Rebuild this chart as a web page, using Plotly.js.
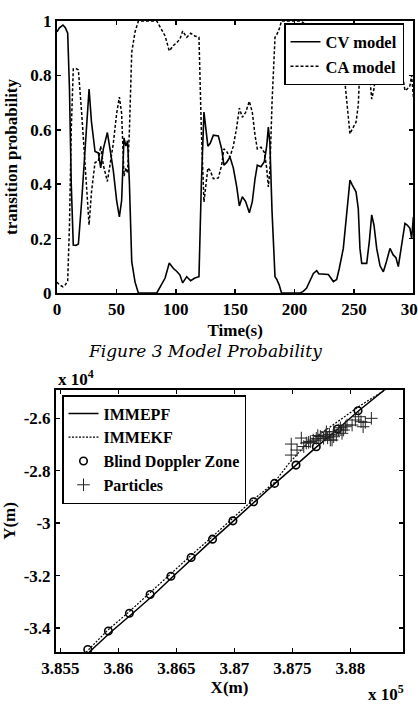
<!DOCTYPE html>
<html>
<head>
<meta charset="utf-8">
<script src="https://cdn.plot.ly/plotly-3.0.1.min.js"></script>
<style>html,body{margin:0;padding:0;background:#fff;}#chart{width:418px;height:706px;}</style>
</head>
<body>
<div id="chart"></div>
<script>
// ---- Figure 3 data: model probabilities vs time ----
var timeS = [0,2,5,7,9,10.5,12,13.7,16,18,20.8,23.6,27,29,32,34.8,36.8,39,42.4,44.6,47.4,50.2,52.5,54.4,56.4,58,59.4,60.9,62.9,65.7,68.5,84,86.7,91,94.5,98,100.7,103.5,105.8,109.2,112.5,116,119.5,121.5,123.7,125.5,127,129,131.6,135.8,138.6,140.5,142.8,145.6,148.4,151.3,153.5,156,158.8,161.9,164.4,166.7,168.6,171.7,174.5,176.5,177.9,179.2,181,183.5,185,187,189,204.5,207,210,213,215.8,218.6,220.5,222.8,225.6,228.4,230.5,232.6,235.4,237.6,241,243.8,246.6,248.6,251.7,253.6,255,256.5,260.7,262.9,264.9,266.8,269.1,271.9,274.7,276.9,278.5,280.3,283,285.3,287.3,289.3,291.5,292.9,294.8,297.1,298.5,300];
var cvModel = [0.96,0.975,0.985,0.975,0.955,0.75,0.40,0.176,0.175,0.18,0.34,0.53,0.75,0.63,0.52,0.515,0.46,0.53,0.59,0.53,0.45,0.34,0.28,0.34,0.57,0.54,0.56,0.41,0.115,0.04,0.0,0.0,0.02,0.055,0.11,0.09,0.08,0.066,0.037,0.06,0.045,0.055,0.06,0.40,0.665,0.60,0.54,0.55,0.58,0.577,0.53,0.47,0.48,0.50,0.46,0.39,0.32,0.354,0.336,0.295,0.336,0.42,0.47,0.464,0.483,0.54,0.61,0.55,0.30,0.06,0.05,0.03,0.0,0.0,0.005,0.017,0.045,0.072,0.082,0.07,0.07,0.07,0.068,0.055,0.042,0.05,0.09,0.164,0.287,0.415,0.397,0.372,0.31,0.164,0.109,0.109,0.19,0.287,0.25,0.164,0.10,0.078,0.109,0.14,0.164,0.14,0.13,0.097,0.152,0.213,0.256,0.25,0.238,0.2,0.28];
var caModel = [0.04,0.03,0.023,0.03,0.045,0.25,0.60,0.824,0.825,0.82,0.66,0.47,0.25,0.37,0.48,0.485,0.54,0.47,0.41,0.47,0.55,0.66,0.72,0.66,0.43,0.46,0.44,0.59,0.885,0.96,1.0,1.0,0.98,0.945,0.89,0.91,0.92,0.934,0.963,0.94,0.955,0.945,0.94,0.60,0.335,0.40,0.46,0.45,0.42,0.423,0.47,0.53,0.52,0.50,0.54,0.61,0.68,0.646,0.664,0.705,0.664,0.58,0.53,0.536,0.517,0.46,0.39,0.45,0.70,0.94,0.95,0.97,1.0,1.0,0.995,0.983,0.955,0.928,0.918,0.93,0.93,0.93,0.932,0.945,0.958,0.95,0.91,0.836,0.713,0.585,0.603,0.628,0.69,0.836,0.891,0.891,0.81,0.713,0.75,0.836,0.90,0.922,0.891,0.86,0.836,0.86,0.87,0.903,0.848,0.787,0.744,0.75,0.762,0.80,0.72];
var probTickVals = [0,0.2,0.4,0.6,0.8,1];
var probTickText = ["0","0.2","0.4","0.6","0.8","1"];
var timeTickVals = [0,50,100,150,200,250,300];
var timeTickText = ["0","50","100","150","200","250","300"];

// ---- Figure 4 data: tracking trajectories (m) ----
var epfX = [385747,385933,386114,386291,386464,386636,386813,386991,387168,387349,387532,387707,387893,388070,388295];
var epfY = [-34927,-34163,-33476,-32788,-32062,-31337,-30630,-29923,-29197,-28491,-27784,-27097,-26409,-25721,-24919];
var ekfX = [385721,385907,386088,386265,386442,386619,386801,386978,387159,387345,387466,387627,387828,388087,388312];
var ekfY = [-34927,-34087,-33399,-32674,-31986,-31260,-30554,-29847,-29121,-28453,-27746,-26955,-26332,-25511,-24881];
var bdzX = [385736,385914,386095,386274,386453,386628,386812,386988,387166,387347,387532,387707,387891,388067];
var bdzY = [-34824,-34114,-33438,-32723,-32024,-31310,-30611,-29912,-29186,-28483,-27784,-27085,-26409,-25710];
var partX = [387491,387491,387541,387578,387599,387621,387656,387681,387707,387720,387729,387742,387770,387785,387794,387805,387820,387828,387857,387880,387900,387915,387929,387958,387972,388016,388044,388073,388093,388111,388130,388182,387641,387843,387943,387857];
var partY = [-26982,-27402,-27211,-26753,-27077,-26944,-26886,-26829,-26764,-26657,-26829,-26695,-26764,-26638,-26512,-26741,-26611,-26829,-26512,-26638,-26447,-26359,-26573,-26321,-26256,-26256,-26065,-25939,-26130,-26321,-26153,-26000,-26917,-26829,-26447,-26703];
var xyTickValsX = [385500,386000,386500,387000,387500,388000];
var xyTickTextX = ["3.855","3.86","3.865","3.87","3.875","3.88"];
var xyTickValsY = [-34000,-32000,-30000,-28000,-26000];
var xyTickTextY = ["-3.4","-3.2","-3","-2.8","-2.6"];

var W = 418, H = 706;
function px(x){return x/W;}
function py(y){return (H-y)/H;}

var serif = "Liberation Serif";
var capSerif = "DejaVu Serif";
var tickF = {family: serif, size: 17, color: "#000", weight: "bold"};
var titleF = {family: serif, size: 17, color: "#000", weight: "bold"};
var legF = {family: serif, size: 16.5, color: "#000", weight: "bold"};
var legF2 = {family: serif, size: 16, color: "#000", weight: "bold"};

var traces = [
  {x: timeS, y: cvModel, type: "scatter", mode: "lines", name: "<b>CV model</b>",
   line: {color: "#000", width: 1.6}, xaxis: "x", yaxis: "y", legend: "legend"},
  {x: timeS, y: caModel, type: "scatter", mode: "lines", name: "<b>CA model</b>",
   line: {color: "#000", width: 1.5, dash: "3px,2px"}, xaxis: "x", yaxis: "y", legend: "legend"},
  {x: epfX, y: epfY, type: "scatter", mode: "lines", name: "<b>IMMEPF</b>",
   line: {color: "#000", width: 1.5}, xaxis: "x2", yaxis: "y2", legend: "legend2"},
  {x: ekfX, y: ekfY, type: "scatter", mode: "lines", name: "<b>IMMEKF</b>",
   line: {color: "#000", width: 1.2, dash: "2px,1.5px"}, xaxis: "x2", yaxis: "y2", legend: "legend2"},
  {x: bdzX, y: bdzY, type: "scatter", mode: "markers", name: "<b>Blind Doppler Zone</b>",
   marker: {symbol: "circle-open", size: 7.5, color: "#000", line: {width: 1.6, color: "#000"}},
   xaxis: "x2", yaxis: "y2", legend: "legend2"},
  {x: partX, y: partY, type: "scatter", mode: "markers", name: "<b>Particles</b>",
   marker: {symbol: "cross-thin-open", size: 9, color: "#222", line: {width: 1, color: "#222"}},
   xaxis: "x2", yaxis: "y2", legend: "legend2"}
];

var axBase = {showline: true, linecolor: "#000", linewidth: 2, mirror: "ticks",
  ticks: "inside", ticklen: 4, tickwidth: 1.5, tickcolor: "#000",
  showgrid: false, zeroline: false, tickfont: tickF, tickmode: "array",
  ticklabeloverflow: "allow"};
function ax(o){var r = {}; for (var k in axBase) r[k] = axBase[k]; for (var k2 in o) r[k2] = o[k2]; return r;}

var layout = {
  width: W, height: H, autosize: false,
  margin: {l: 0, r: 0, t: 0, b: 0, pad: 0},
  paper_bgcolor: "#fff", plot_bgcolor: "#fff",
  font: {family: serif, color: "#000"},
  showlegend: true,
  xaxis: ax({domain: [px(57), px(413.4)], range: [0, 300], anchor: "y",
    tickvals: timeTickVals, ticktext: timeTickText,
    title: {text: "Time(s)", font: titleF, standoff: 6}}),
  yaxis: ax({domain: [py(293), py(21)], range: [0, 1], anchor: "x",
    tickvals: probTickVals, ticktext: probTickText,
    title: {text: "transition probability", font: titleF, standoff: 8}}),
  xaxis2: ax({domain: [px(56), px(403)], range: [385462, 388455], anchor: "y2",
    tickvals: xyTickValsX, ticktext: xyTickTextX,
    title: {text: "X(m)", font: titleF, standoff: 4}}),
  yaxis2: ax({domain: [py(652), py(390)], range: [-34917, -24919], anchor: "x2",
    tickvals: xyTickValsY, ticktext: xyTickTextY,
    title: {text: "Y(m)", font: titleF, standoff: 6}}),
  legend: {x: px(284), y: py(23), xanchor: "left", yanchor: "top",
    bgcolor: "#fff", bordercolor: "#000", borderwidth: 1.5, font: legF,
    tracegroupgap: 0, itemwidth: 30},
  legend2: {x: px(62), y: py(395), xanchor: "left", yanchor: "top",
    bgcolor: "#fff", bordercolor: "#000", borderwidth: 1.5, font: legF2,
    tracegroupgap: 0, itemwidth: 30},
  annotations: [
    {text: "Figure 3 Model Probability", xref: "paper", yref: "paper",
     x: px(205), y: py(351), xanchor: "center", yanchor: "middle", showarrow: false,
     font: {family: capSerif, size: 17, color: "#000", style: "italic"}},
    {text: "x 10<sup>4</sup>", xref: "paper", yref: "paper",
     x: px(56), y: py(378), xanchor: "left", yanchor: "middle", showarrow: false,
     font: {family: serif, size: 17, color: "#000", weight: "bold"}},
    {text: "x 10<sup>5</sup>", xref: "paper", yref: "paper",
     x: px(366), y: py(693), xanchor: "left", yanchor: "middle", showarrow: false,
     font: {family: serif, size: 17, color: "#000", weight: "bold"}},
    {text: "Figure 4 Tracking result in BDZ", xref: "paper", yref: "paper",
     x: px(207), y: py(715), xanchor: "center", yanchor: "middle", showarrow: false,
     font: {family: capSerif, size: 17, color: "#444", style: "italic"}}
  ]
};

Plotly.newPlot("chart", traces, layout, {staticPlot: true, displayModeBar: false});
</script>
</body>
</html>
